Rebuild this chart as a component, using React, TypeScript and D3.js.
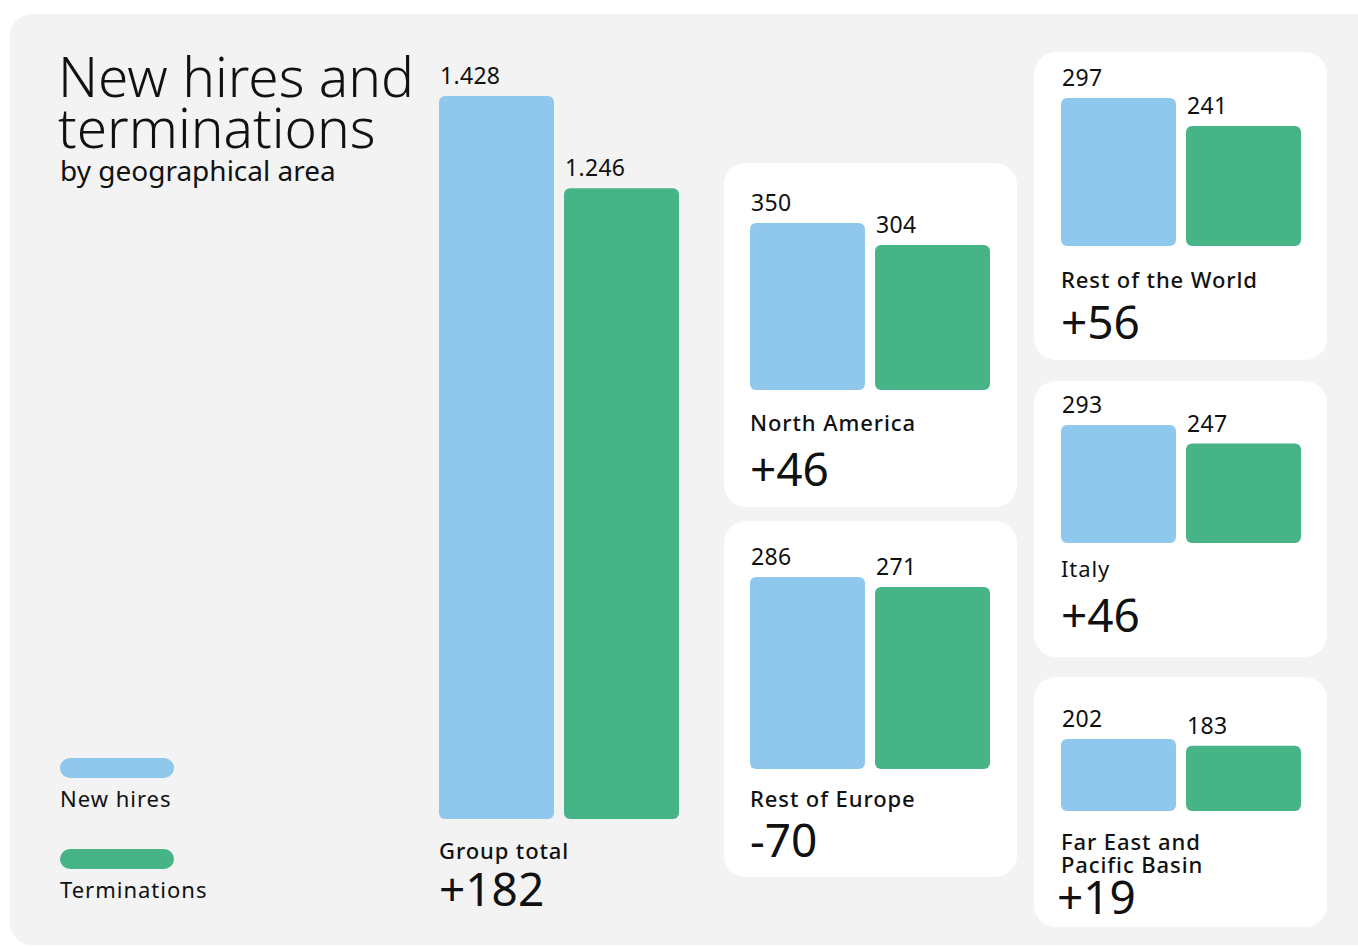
import React from "react";
import * as d3 from "d3";

// ---- data ----
const areas = ["Group total", "North America", "Rest of Europe", "Rest of the World", "Italy", "Far East and Pacific Basin"];
const newHires = [1428, 350, 286, 297, 293, 202];
const terminations = [1246, 304, 271, 241, 247, 183];
const netChange = [182, 46, -70, 56, 46, 19];
const seriesNames = ["New hires", "Terminations"];

// ---- layout / style ----
const W = 1358;
const H = 947;
const BLUE = "#90c8ed";
const GREEN = "#47b487";
const FONT = "'Noto Sans', 'Open Sans', sans-serif";

type Layout = {
  card: [number, number, number, number] | null; // x, y, w, h
  x0: number;
  base: number;
  top: number; // pixel top of the largest bar
  nameY: number;
  nameLines: string[];
  nameWeight: number;
  deltaY: number;
  deltaX?: number;
};

const layouts: Layout[] = [
  { card: null, x0: 439, base: 819, top: 96, nameY: 859, nameLines: ["Group total"], nameWeight: 500, deltaY: 906 },
  { card: [724, 163, 293, 344], x0: 750, base: 390, top: 223, nameY: 431, nameLines: ["North America"], nameWeight: 500, deltaY: 486 },
  { card: [724, 521, 293, 356], x0: 750, base: 769, top: 577, nameY: 807, nameLines: ["Rest of Europe"], nameWeight: 500, deltaY: 857 },
  { card: [1034, 52, 293, 308], x0: 1061, base: 246, top: 98, nameY: 288, nameLines: ["Rest of the World"], nameWeight: 500, deltaY: 339 },
  { card: [1034, 381, 293, 276], x0: 1061, base: 543, top: 425, nameY: 577, nameLines: ["Italy"], nameWeight: 400, deltaY: 632 },
  { card: [1034, 677, 293, 250], x0: 1061, base: 811, top: 739, nameY: 850, nameLines: ["Far East and", "Pacific Basin"], nameWeight: 500, deltaY: 914, deltaX: 1057 },
];

const BAR_W = 115;
const BAR_GAP = 10;

const fmtVal = (v: number) => d3.format(",")(v).replace(/,/g, ".");
const fmtDelta = (v: number) => (v > 0 ? "+" + v : String(v));

function Panel({ i }: { i: number }) {
  const L = layouts[i];
  const vals = [newHires[i], terminations[i]];
  const maxV = d3.max(vals) as number;
  const y = d3.scaleLinear().domain([0, maxV]).range([L.base, L.top]);
  const x = d3
    .scaleBand<number>()
    .domain([0, 1])
    .range([L.x0, L.x0 + 2 * BAR_W + BAR_GAP])
    .paddingInner(BAR_GAP / (BAR_W + BAR_GAP));
  const colors = [BLUE, GREEN];
  return (
    <g>
      {L.card && (
        <rect x={L.card[0]} y={L.card[1]} width={L.card[2]} height={L.card[3]} rx={22} fill="#ffffff" />
      )}
      {vals.map((v, k) => (
        <g key={k}>
          <rect x={x(k)} y={y(v)} width={x.bandwidth()} height={L.base - y(v)} rx={6} fill={colors[k]} />
          <text x={(x(k) as number) + 1} y={y(v) - 12} fontSize={23} fill="#111" letterSpacing={0.3}>
            {fmtVal(v)}
          </text>
        </g>
      ))}
      {L.nameLines.map((ln, j) => (
        <text key={j} x={L.x0} y={L.nameY + j * 23} fontSize={22} fontWeight={L.nameWeight} fill="#111" letterSpacing={0.9}>
          {ln}
        </text>
      ))}
      <text x={L.deltaX ?? L.x0} y={L.deltaY} fontSize={46} fill="#111">
        {fmtDelta(netChange[i])}
      </text>
    </g>
  );
}

export default function App() {
  return (
    <svg width={W} height={H} style={{ position: "absolute", left: 0, top: 0, display: "block" }} fontFamily={FONT}>
      <rect x={0} y={0} width={W} height={H} fill="#ffffff" />
      <rect x={10} y={14} width={W + 30} height={931} rx={22} fill="#f3f3f3" />
      <text x={58} y={97} fontSize={55} fontWeight={300} fill="#111">
        New hires and
      </text>
      <text x={58} y={148} fontSize={55} fontWeight={300} fill="#111">
        terminations
      </text>
      <text x={60} y={181} fontSize={28} fill="#111">
        by geographical area
      </text>

      {/* legend */}
      {seriesNames.map((s, k) => (
        <g key={s}>
          <rect x={60} y={758 + k * 91} width={114} height={20} rx={10} fill={k === 0 ? BLUE : GREEN} />
          <text x={60} y={807 + k * 91} fontSize={22} fill="#111" letterSpacing={1}>
            {s}
          </text>
        </g>
      ))}

      {areas.map((a, i) => (
        <Panel key={a} i={i} />
      ))}
    </svg>
  );
}
